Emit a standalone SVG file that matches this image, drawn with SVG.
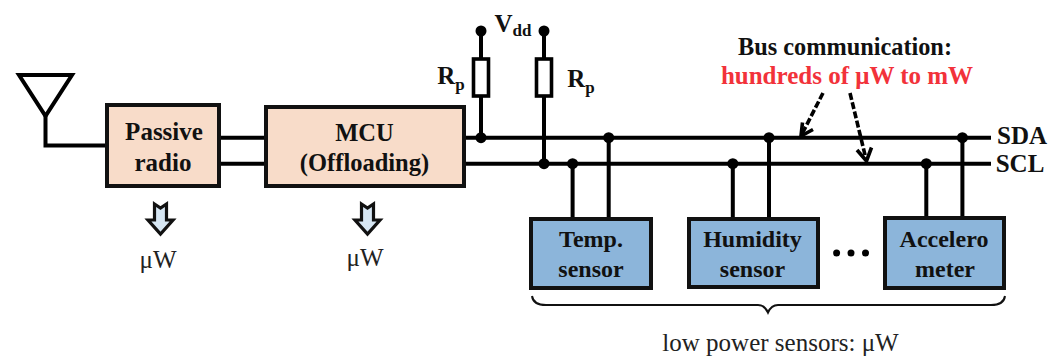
<svg xmlns="http://www.w3.org/2000/svg" width="1059" height="356" viewBox="0 0 1059 356">
<style>
.w{fill:none;stroke:#000;stroke-width:4}
.t{font-family:"Liberation Serif","Times New Roman",serif;font-size:25px;font-weight:bold;fill:#111;text-anchor:middle}
.s{font-size:24px}
.m{font-size:24.500px}
.n{font-family:"Liberation Serif","Times New Roman",serif;font-size:25px;fill:#222;text-anchor:middle}
.box{stroke:#111;stroke-width:4}
.peach{fill:#f8dcc9}
.blue{fill:#8cb5da}
.res{fill:#fff;stroke:#000;stroke-width:3.6}
.pw{fill:#d6e6f3;stroke:#111;stroke-width:3.2;stroke-linejoin:miter}
.dash{fill:none;stroke:#000;stroke-width:3.6;stroke-dasharray:7 2.5}
.head{fill:none;stroke:#000;stroke-width:3.6}
.sub{font-size:17px}
</style>
<g id="connectors">
<path class="w" d="M45.500 116V145.500H106"/>
<path class="w" d="M219 137.700H265M219 163.700H265M464 137.700H991M464 163.700H991"/>
<path class="w" d="M481 31V137.700M544 31V163.700"/>
<path class="w" d="M572.600 163.700V217M608.700 137.700V217M732.800 163.700V217M769 137.700V217M926.300 163.700V217M962.400 137.700V217"/>
<g fill="#000">
<circle cx="481" cy="31" r="5.500"/><circle cx="544" cy="31" r="5.500"/>
<circle cx="481" cy="137.700" r="5.500"/><circle cx="544" cy="163.700" r="5.500"/>
<circle cx="608.700" cy="137.700" r="5.500"/><circle cx="769" cy="137.700" r="5.500"/><circle cx="962.400" cy="137.700" r="5.500"/>
<circle cx="572.600" cy="163.700" r="5.500"/><circle cx="732.800" cy="163.700" r="5.500"/><circle cx="926.300" cy="163.700" r="5.500"/>
</g>
<path class="dash" d="M823 93L802 134"/>
<path class="head" d="M802.500 122.500L801 136L813 129.500"/>
<path class="dash" d="M850 93L866 159"/>
<path class="head" d="M857 150L866.500 161L871.500 147.500"/>
<path d="M532 296C533 303 538 305 546 305H758C763 305 766 308 768 312.500C770 308 773 305 778 305H991C999 305 1004 303 1005 296" fill="none" stroke="#111" stroke-width="2"/>
</g>
<g id="antenna"><path class="w" d="M19 75H72L45.500 116Z"/></g>
<g id="passive-radio">
<rect class="box peach" x="107" y="105" width="112" height="81"/>
<text class="t" x="164" y="140">Passive</text><text class="t" x="163" y="171">radio</text>
</g>
<g id="mcu">
<rect class="box peach" x="266" y="107" width="198" height="79"/>
<text class="t m" x="364.500" y="141">MCU</text><text class="t m" x="364.500" y="171">(Offloading)</text>
</g>
<g id="resistor-1"><rect class="res" x="473.500" y="59" width="15" height="37"/>
<text class="t" x="451" y="84">R<tspan class="sub" dy="6">p</tspan></text></g>
<g id="resistor-2"><rect class="res" x="536.500" y="59" width="15" height="37"/>
<text class="t" x="581" y="87">R<tspan class="sub" dy="6">p</tspan></text></g>
<g id="vdd"><text class="t" x="513" y="32">V<tspan class="sub" dy="4">dd</tspan></text></g>
<g id="temp-sensor">
<rect class="box blue" x="531" y="219" width="120" height="69"/>
<text class="t s" x="591" y="247">Temp.</text><text class="t s" x="591" y="277">sensor</text>
</g>
<g id="humidity-sensor">
<rect class="box blue" x="689" y="219" width="129" height="68"/>
<text class="t s" x="752.500" y="247">Humidity</text><text class="t s" x="752.500" y="277">sensor</text>
</g>
<g id="accelerometer">
<rect class="box blue" x="885" y="218" width="119" height="70"/>
<text class="t s" x="944" y="247">Accelero</text><text class="t s" x="945" y="277">meter</text>
</g>
<g id="ellipsis" fill="#000"><circle cx="836.600" cy="253" r="3.500"/><circle cx="851" cy="253" r="3.500"/><circle cx="865.500" cy="253" r="3.500"/></g>
<g id="power-radio"><path class="pw" d="M154.500 204L160.500 208L166.500 204V220H173L160.500 234L148 220H154.500Z"/><text class="n" x="158" y="268">μW</text></g>
<g id="power-mcu"><path class="pw" d="M361.500 204L367.500 208L373.500 204V220H380L367.500 234L355 220H361.500Z"/><text class="n" x="365" y="266">μW</text></g>
<g id="labels">
<text class="t" x="845" y="55" style="font-size:24.300px">Bus communication:</text>
<text class="t" x="847" y="84" style="fill:#f2323a">hundreds of μW to mW</text>
<text class="t" x="1022" y="144">SDA</text>
<text class="t" x="1020" y="172">SCL</text>
<text class="n" x="780.500" y="351">low power sensors: μW</text>
</g>
</svg>
